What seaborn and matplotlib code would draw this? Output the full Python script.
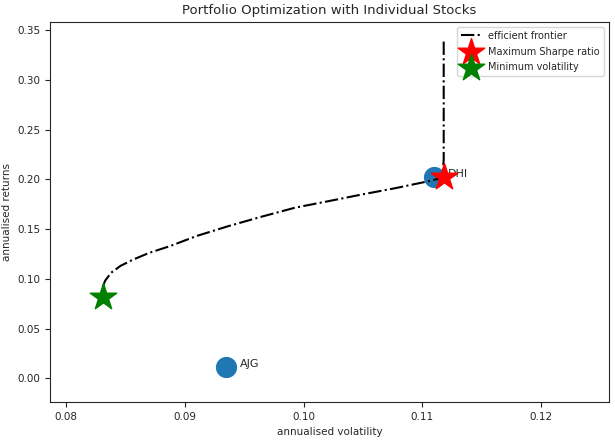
import matplotlib
matplotlib.use("Agg")
import matplotlib.pyplot as plt
import seaborn as sns

tickers = ["AJG", "DHI"]
stock_vol = [0.0935, 0.1110]
stock_ret = [0.011, 0.202]

frontier_vol = [0.0831, 0.0833, 0.0838, 0.0846, 0.0856, 0.0870, 0.0888, 0.0910, 0.0937,
                0.0965, 0.0993, 0.1021, 0.1049, 0.1077, 0.1105, 0.1117,
                0.1118, 0.1118, 0.1118]
frontier_ret = [0.092, 0.098, 0.106, 0.113, 0.119, 0.126, 0.133, 0.143, 0.153,
                0.1625, 0.1715, 0.178, 0.1847, 0.191, 0.198, 0.2015,
                0.22, 0.28, 0.34]

max_sharpe = (0.1118, 0.202)
min_vol = (0.0831, 0.082)

sns.set_style("ticks")
plt.rcParams['font.family'] = ['DejaVu Sans']
fig, ax = plt.subplots(figsize=(6.15, 4.41), dpi=100)
fig.subplots_adjust(left=0.082, right=0.99, top=0.95, bottom=0.088)

sns.scatterplot(x=stock_vol, y=stock_ret, s=200, color='#1f77b4', edgecolor='#1f77b4', ax=ax, zorder=2)
for t, x, y in zip(tickers, stock_vol, stock_ret):
    ax.annotate(t, (x, y), xytext=(10, 0), textcoords='offset points', fontsize=8)

ax.plot(frontier_vol, frontier_ret, linestyle='-.', color='black', label='efficient frontier', zorder=3)
ax.scatter(max_sharpe[0], max_sharpe[1], marker='*', color='r', s=400, label='Maximum Sharpe ratio', zorder=4)
ax.scatter(min_vol[0], min_vol[1], marker='*', color='g', s=400, label='Minimum volatility', zorder=4)

ax.set_xlim(0.0787, 0.1257)
ax.set_ylim(-0.024, 0.358)
ax.set_xticks([0.08, 0.09, 0.10, 0.11, 0.12])
ax.set_xticklabels(['0.08', '0.09', '0.10', '0.11', '0.12'])
ax.set_yticks([0.00, 0.05, 0.10, 0.15, 0.20, 0.25, 0.30, 0.35])
ax.tick_params(labelsize=7.5)
ax.set_title('Portfolio Optimization with Individual Stocks', fontsize=9.5)
ax.set_xlabel('annualised volatility', fontsize=7.5)
ax.set_ylabel('annualised returns', fontsize=7.5)
ax.legend(loc='upper right', fontsize=7, labelspacing=0.6)

fig.savefig('out.png', dpi=100)
